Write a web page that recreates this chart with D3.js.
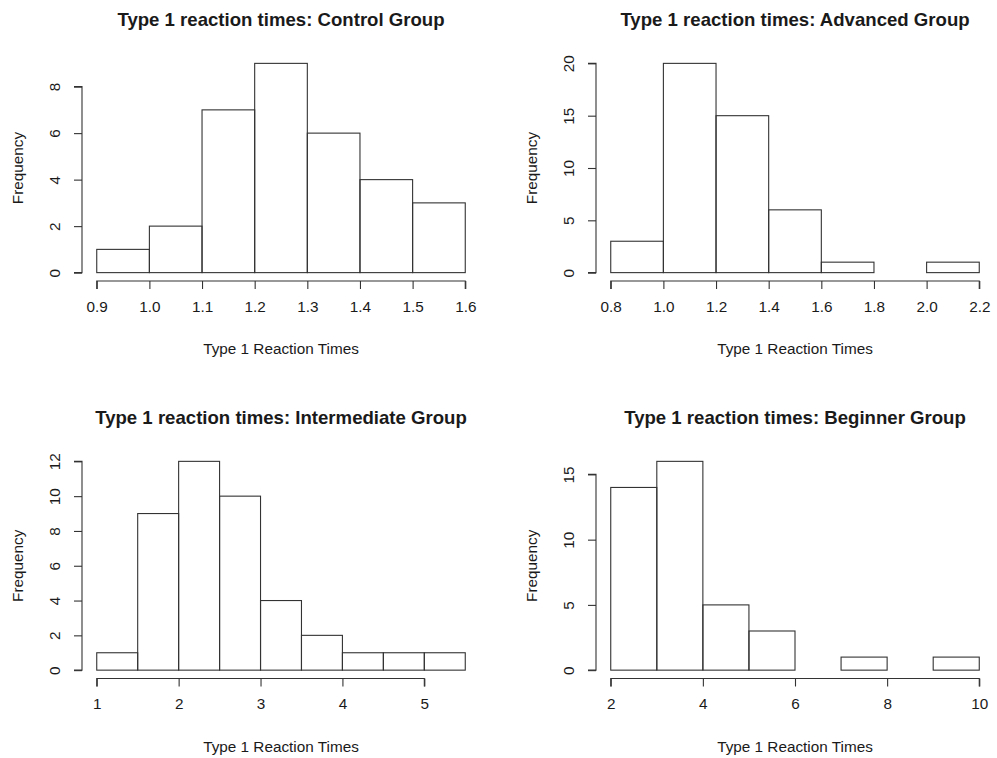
<!DOCTYPE html>
<html>
<head>
<meta charset="utf-8">
<script src="https://cdn.jsdelivr.net/npm/d3@7"></script>
<style>
  html, body { margin: 0; padding: 0; background: #fff; }
  svg text { font-family: "Liberation Sans", Arial, sans-serif; fill: #1a1a1a; }
</style>
</head>
<body>
<svg id="chart" width="997" height="758"></svg>
<script>
// ---- Data ----
const titles = [
  "Type 1 reaction times: Control Group",
  "Type 1 reaction times: Advanced Group",
  "Type 1 reaction times: Intermediate Group",
  "Type 1 reaction times: Beginner Group"
];
const xLabel = "Type 1 Reaction Times";
const yLabel = "Frequency";

// bin edges
const controlBreaks = [0.9, 1.0, 1.1, 1.2, 1.3, 1.4, 1.5, 1.6];
const controlCounts = [1, 2, 7, 9, 6, 4, 3];
const advancedBreaks = [0.8, 1.0, 1.2, 1.4, 1.6, 1.8, 2.0, 2.2];
const advancedCounts = [3, 20, 15, 6, 1, 0, 1];
const intermediateBreaks = [1.0, 1.5, 2.0, 2.5, 3.0, 3.5, 4.0, 4.5, 5.0, 5.5];
const intermediateCounts = [1, 9, 12, 10, 4, 2, 1, 1, 1];
const beginnerBreaks = [2, 3, 4, 5, 6, 7, 8, 9, 10];
const beginnerCounts = [14, 16, 5, 3, 0, 1, 0, 1];

// tick labels
const controlXTicks = [0.9, 1.0, 1.1, 1.2, 1.3, 1.4, 1.5, 1.6];
const controlYTicks = [0, 2, 4, 6, 8];
const advancedXTicks = [0.8, 1.0, 1.2, 1.4, 1.6, 1.8, 2.0, 2.2];
const advancedYTicks = [0, 5, 10, 15, 20];
const intermediateXTicks = [1, 2, 3, 4, 5];
const intermediateYTicks = [0, 2, 4, 6, 8, 10, 12];
const beginnerXTicks = [2, 4, 6, 8, 10];
const beginnerYTicks = [0, 5, 10, 15];

const panels = [
  { title: titles[0], breaks: controlBreaks, counts: controlCounts, xt: controlXTicks, yt: controlYTicks, xfmt: d3.format(".1f"), col: 0, row: 0 },
  { title: titles[1], breaks: advancedBreaks, counts: advancedCounts, xt: advancedXTicks, yt: advancedYTicks, xfmt: d3.format(".1f"), col: 1, row: 0 },
  { title: titles[2], breaks: intermediateBreaks, counts: intermediateCounts, xt: intermediateXTicks, yt: intermediateYTicks, xfmt: d3.format("d"), col: 0, row: 1 },
  { title: titles[3], breaks: beginnerBreaks, counts: beginnerCounts, xt: beginnerXTicks, yt: beginnerYTicks, xfmt: d3.format("d"), col: 1, row: 1 }
];

// ---- Layout (plot regions, R-style) ----
const colLeft = [82, 596];
const colRight = [480, 994];
const rowTop = [55, 453];
const rowBottom = [281, 678.5];
const stroke = "#333";
const fs = "15.3px";

const svg = d3.select("#chart");

panels.forEach(p => {
  const L = colLeft[p.col], R = colRight[p.col];
  const T = rowTop[p.row], B = rowBottom[p.row];
  const x0 = p.breaks[0], x1 = p.breaks[p.breaks.length - 1];
  const ymax = d3.max(p.counts);
  const xpad = (x1 - x0) * 0.04, ypad = ymax * 0.04;
  const x = d3.scaleLinear().domain([x0 - xpad, x1 + xpad]).range([L, R]);
  const y = d3.scaleLinear().domain([-ypad, ymax + ypad]).range([B, T]);

  const g = svg.append("g");

  const bins = p.counts.map((c, i) => ({ a: p.breaks[i], b: p.breaks[i + 1], c }));
  g.selectAll("rect.bar").data(bins).join("rect")
    .attr("class", "bar")
    .attr("x", d => x(d.a))
    .attr("y", d => y(d.c))
    .attr("width", d => x(d.b) - x(d.a))
    .attr("height", d => y(0) - y(d.c))
    .attr("fill", "none")
    .attr("stroke", stroke)
    .attr("stroke-width", 1.1);

  // x axis
  const xAxis = d3.axisBottom(x).tickValues(p.xt).tickFormat(p.xfmt).tickSize(8).tickPadding(12);
  const xa = g.append("g").attr("transform", `translate(0,${B})`).call(xAxis);
  xa.select(".domain").attr("d", `M${x(p.xt[0])},8V0H${x(p.xt[p.xt.length - 1])}V8`);
  xa.selectAll("path, line").attr("stroke", stroke).attr("stroke-width", 1.1);
  xa.selectAll("text").style("font-size", fs).attr("fill", "#1a1a1a").attr("y", 20).attr("dy", "0.71em");

  // y axis
  const yAxis = d3.axisLeft(y).tickValues(p.yt).tickSize(8).tickPadding(4);
  const ya = g.append("g").attr("transform", `translate(${L},0)`).call(yAxis);
  ya.select(".domain").attr("d", `M-8,${y(p.yt[0])}H0V${y(p.yt[p.yt.length - 1])}H-8`);
  ya.selectAll("path, line").attr("stroke", stroke).attr("stroke-width", 1.1);
  ya.selectAll("text")
    .style("font-size", fs)
    .attr("fill", "#1a1a1a")
    .attr("x", 0).attr("y", 0).attr("dy", null)
    .attr("text-anchor", "middle")
    .attr("transform", "translate(-22,0) rotate(-90)");

  // titles
  g.append("text")
    .attr("x", (L + R) / 2).attr("y", T - 29)
    .attr("text-anchor", "middle")
    .style("font-size", "18.6px").style("font-weight", "bold")
    .attr("fill", "#000")
    .text(p.title);

  g.append("text")
    .attr("x", (L + R) / 2).attr("y", B + 73)
    .attr("text-anchor", "middle")
    .style("font-size", fs)
    .text(xLabel);

  g.append("text")
    .attr("transform", `translate(${L - 59},${(T + B) / 2}) rotate(-90)`)
    .attr("text-anchor", "middle")
    .style("font-size", fs)
    .text(yLabel);
});
</script>
</body>
</html>
